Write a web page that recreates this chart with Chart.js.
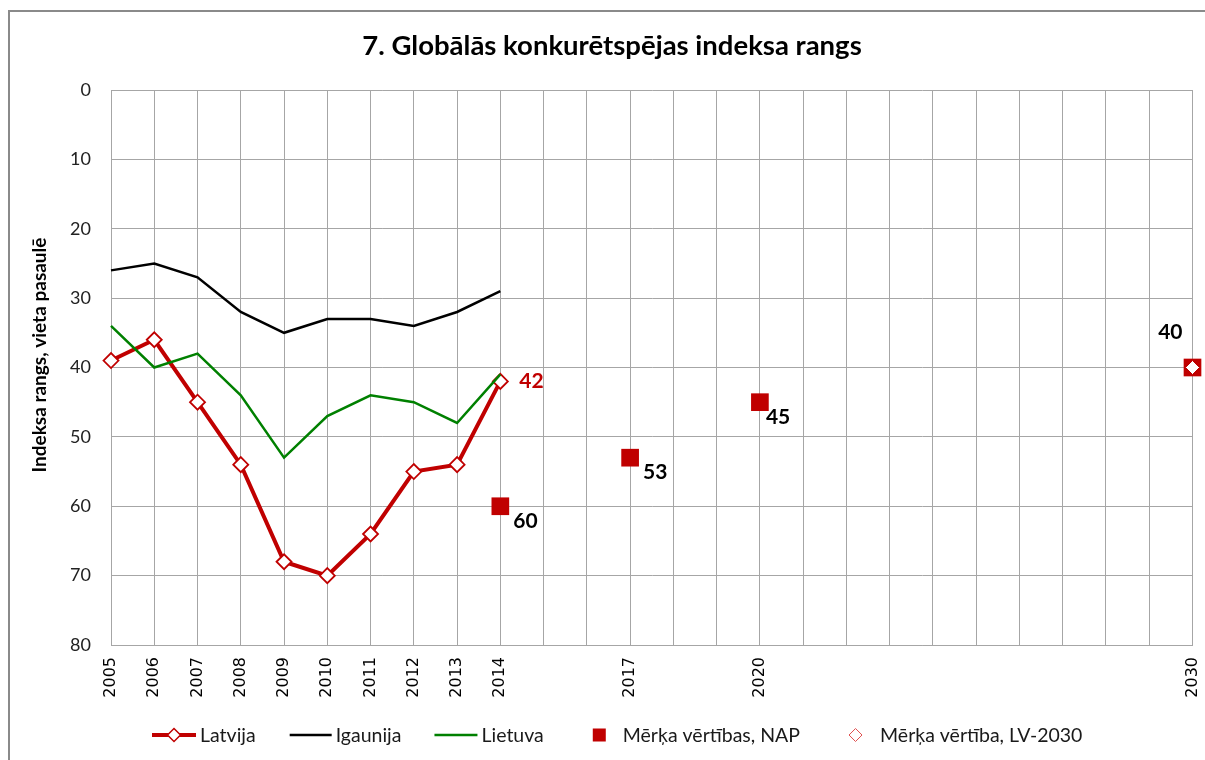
<!DOCTYPE html>
<html>
<head>
<meta charset="utf-8">
<script src="https://cdn.jsdelivr.net/npm/chart.js@4.4.1/dist/chart.umd.min.js"></script>
<style>
  html, body { margin: 0; padding: 0; background: #ffffff; overflow: hidden; width: 1205px; height: 760px; }
  #frame { position: absolute; left: 8px; top: 10px; width: 1400px; height: 900px; border: 2px solid #8a8a8a; box-sizing: border-box; }
  #c { position: absolute; left: 0; top: 0; }
</style>
</head>
<body>
<div id="frame"></div>
<canvas id="c" width="1205" height="760"></canvas>
<script>
// ---------- data ----------
const categories = ['2005','2006','2007','2008','2009','2010','2011','2012','2013','2014','2015','2016','2017','2018','2019','2020','2021','2022','2023','2024','2025','2026','2027','2028','2029','2030'];
const shownTickLabels = ['2005','2006','2007','2008','2009','2010','2011','2012','2013','2014','2017','2020','2030'];
const yTicks = [0, 10, 20, 30, 40, 50, 60, 70, 80];

const latvija   = [39, 36, 45, 54, 68, 70, 64, 55, 54, 42];
const igaunija  = [26, 25, 27, 32, 35, 33, 33, 34, 32, 29];
const lietuva   = [34, 40, 38, 44, 53, 47, 44, 45, 48, 41];
const napYears  = ['2014', '2017', '2020', '2030'];
const napValues = [60, 53, 45, 40];
const lvYears   = ['2030'];
const lvValues  = [40];

const seriesNames = ['Latvija', 'Igaunija', 'Lietuva', 'Mērķa vērtības, NAP', 'Mērķa vērtība, LV-2030'];
const titleText = '7. Globālās konkurētspējas indeksa rangs';
const yTitleText = 'Indeksa rangs, vieta pasaulē';

// ---------- styles ----------
const RED = '#C00000';
const GRID = '#A6A6A6';
const CAL = 'Lato, "Open Sans", sans-serif';

const napPoints = napYears.map((y, i) => ({ x: y, y: napValues[i] }));
const lvPoints = lvYears.map((y, i) => ({ x: y, y: lvValues[i] }));

// label specs: dataset index, data index, colour and placement (style only)
const valueLabels = [
  { ds: 0, idx: latvija.length - 1, color: RED, dx: 19, dy: 0, align: 'left' },
  { ds: 3, idx: 0, color: '#000', dx: 13, dy: 15, align: 'left' },
  { ds: 3, idx: 1, color: '#000', dx: 13, dy: 15, align: 'left' },
  { ds: 3, idx: 2, color: '#000', dx: 6, dy: 15, align: 'left' },
  { ds: 3, idx: 3, color: '#000', dx: -10, dy: -35, align: 'right' }
];

const titlePlugin = {
  id: 'customTitle',
  afterDraw(chart) {
    const ctx = chart.ctx;
    ctx.save();
    ctx.font = 'bold 27.5px ' + CAL;
    ctx.fillStyle = '#000';
    ctx.textAlign = 'center';
    ctx.textBaseline = 'middle';
    ctx.fillText(titleText, 612, 46);
    // y-axis title
    ctx.translate(40, 355);
    ctx.rotate(-Math.PI / 2);
    ctx.font = 'bold 19px ' + CAL;
    ctx.fillText(yTitleText, 0, 0);
    ctx.restore();
  }
};

const labelPlugin = {
  id: 'valueLabels',
  afterDatasetsDraw(chart) {
    const ctx = chart.ctx;
    ctx.save();
    ctx.font = 'bold 21px ' + CAL;
    ctx.textBaseline = 'middle';
    valueLabels.forEach(l => {
      const meta = chart.getDatasetMeta(l.ds);
      const el = meta.data[l.idx];
      const raw = chart.data.datasets[l.ds].data[l.idx];
      const v = typeof raw === 'object' ? raw.y : raw;
      ctx.fillStyle = l.color;
      ctx.textAlign = l.align;
      ctx.fillText(String(v), el.x + l.dx, el.y + l.dy);
    });
    ctx.restore();
  }
};

function diamond(ctx, x, y, r, fill, stroke, lw) {
  ctx.beginPath();
  ctx.moveTo(x, y - r); ctx.lineTo(x + r, y); ctx.lineTo(x, y + r); ctx.lineTo(x - r, y); ctx.closePath();
  ctx.fillStyle = fill; ctx.fill();
  ctx.strokeStyle = stroke; ctx.lineWidth = lw; ctx.stroke();
}

const legendPlugin = {
  id: 'customLegend',
  afterDraw(chart) {
    const ctx = chart.ctx;
    ctx.save();
    ctx.font = '19.5px ' + CAL;
    ctx.textBaseline = 'middle';
    ctx.textAlign = 'left';
    const items = [
      { kind: 'lineDiamond', color: RED, lw: 4, text: seriesNames[0], mw: 44, tg: 4, before: 0 },
      { kind: 'line', color: '#000', lw: 2.5, text: seriesNames[1], mw: 42, tg: 4, before: 34 },
      { kind: 'line', color: '#008000', lw: 2.5, text: seriesNames[2], mw: 43, tg: 4, before: 33 },
      { kind: 'square', color: RED, text: seriesNames[3], mw: 13, tg: 17, before: 49 },
      { kind: 'diamond', color: RED, text: seriesNames[4], mw: 13, tg: 18, before: 49 }
    ];
    let x = 152;
    const y = 735;
    items.forEach(it => {
      x += it.before;
      if (it.kind === 'line' || it.kind === 'lineDiamond') {
        ctx.beginPath(); ctx.moveTo(x, y); ctx.lineTo(x + it.mw, y);
        ctx.strokeStyle = it.color; ctx.lineWidth = it.lw; ctx.stroke();
        if (it.kind === 'lineDiamond') diamond(ctx, x + it.mw / 2, y, 6.5, '#fff', it.color, 1.5);
      } else if (it.kind === 'square') {
        ctx.fillStyle = it.color; ctx.fillRect(x, y - 6.5, 13, 13);
      } else {
        diamond(ctx, x + 6.5, y, 6.5, '#fff', '#E05050', 1);
      }
      x += it.mw + it.tg;
      ctx.fillStyle = '#1a1a1a';
      ctx.fillText(it.text, x, y + 1);
      x += ctx.measureText(it.text).width;
    });
    ctx.restore();
  }
};

new Chart(document.getElementById('c'), {
  type: 'line',
  data: {
    labels: categories,
    datasets: [
      { label: seriesNames[0], data: latvija, borderColor: RED, borderWidth: 4, pointStyle: 'rectRot', pointRadius: 7.5,
        pointBackgroundColor: '#fff', pointBorderColor: RED, pointBorderWidth: 1.8, tension: 0, order: 4, clip: false },
      { label: seriesNames[1], data: igaunija, borderColor: '#000', borderWidth: 2.5, pointRadius: 0, tension: 0, order: 3, clip: false },
      { label: seriesNames[2], data: lietuva, borderColor: '#008000', borderWidth: 2.5, pointRadius: 0, tension: 0, order: 2, clip: false },
      { label: seriesNames[3], data: napPoints, showLine: false, pointStyle: 'rect', pointRadius: 12.5,
        pointBackgroundColor: RED, pointBorderColor: RED, pointBorderWidth: 0, order: 1, clip: false },
      { label: seriesNames[4], data: lvPoints, showLine: false, pointStyle: 'rectRot', pointRadius: 7,
        pointBackgroundColor: '#fff', pointBorderColor: RED, pointBorderWidth: 1, order: 0, clip: false }
    ]
  },
  options: {
    responsive: false,
    animation: false,
    devicePixelRatio: 1,
    layout: { padding: { left: 0, right: 12, top: 90, bottom: 0 } },
    plugins: { legend: { display: false }, tooltip: { enabled: false }, title: { display: false } },
    scales: {
      x: {
        type: 'category',
        offset: false,
        grid: { color: GRID, lineWidth: 1, drawTicks: false },
        border: { color: GRID, width: 1 },
        ticks: {
          autoSkip: false, maxRotation: 90, minRotation: 90, padding: 12,
          color: '#000', font: { family: '"DejaVu Sans", "Liberation Sans", sans-serif', size: 16 },
          callback: function (value) { const l = this.getLabelForValue(value); return shownTickLabels.includes(l) ? l : ''; }
        },
        afterFit: (s) => { s.height = 115; s.paddingLeft = 0; s.paddingRight = 0; }
      },
      y: {
        reverse: true, min: 0, max: 80,
        afterBuildTicks: (s) => { s.ticks = yTicks.map(v => ({ value: v })); },
        grid: { color: GRID, lineWidth: 1, drawTicks: false },
        border: { color: GRID, width: 1 },
        ticks: { padding: 20, color: '#222', font: { family: CAL, size: 18 } },
        title: { display: false },
        afterFit: (s) => { s.width = 111; s.paddingTop = 0; s.paddingBottom = 0; }
      }
    }
  },
  plugins: [titlePlugin, labelPlugin, legendPlugin]
});
</script>
</body>
</html>
